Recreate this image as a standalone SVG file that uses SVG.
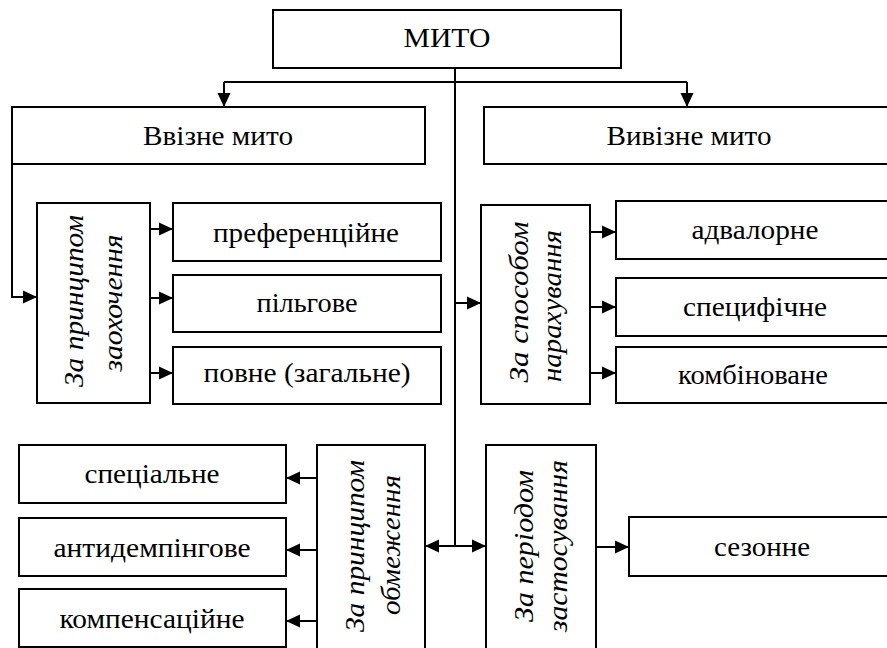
<svg xmlns="http://www.w3.org/2000/svg" width="887" height="648" viewBox="0 0 887 648">
<defs>
<style>
.box{fill:#fff;stroke:#000;stroke-width:2}
.t{font-family:'Liberation Serif','Times New Roman',serif;font-size:27px;fill:#000;text-anchor:middle}
.v{font-family:'Liberation Serif','Times New Roman',serif;font-size:27px;font-style:italic;fill:#000;text-anchor:middle}
.ln{fill:none;stroke:#000;stroke-width:2}
</style>
<marker id="ah" viewBox="0 0 14 14" refX="14" refY="7" markerWidth="14" markerHeight="14" markerUnits="userSpaceOnUse" orient="auto">
<path d="M0,0.5 L14,7 L0,13.5 Z" fill="#000"/>
</marker>
</defs>
<rect width="887" height="648" fill="#fff"/>
<g id="connectors">
<path class="ln" d="M455,68 V546"/>
<path class="ln" d="M224,82 H687"/>
<path class="ln" d="M224,82 V107" marker-end="url(#ah)"/>
<path class="ln" d="M687,82 V107" marker-end="url(#ah)"/>
<path class="ln" d="M12,144 V297 H37" marker-end="url(#ah)"/>
<path class="ln" d="M150,229 H173" marker-end="url(#ah)"/>
<path class="ln" d="M150,298 H173" marker-end="url(#ah)"/>
<path class="ln" d="M150,373 H173" marker-end="url(#ah)"/>
<path class="ln" d="M455,303 H481" marker-end="url(#ah)"/>
<path class="ln" d="M590,232 H616" marker-end="url(#ah)"/>
<path class="ln" d="M590,307 H616" marker-end="url(#ah)"/>
<path class="ln" d="M590,373 H616" marker-end="url(#ah)"/>
<path class="ln" d="M455,546 H425" marker-end="url(#ah)"/>
<path class="ln" d="M455,546 H486" marker-end="url(#ah)"/>
<path class="ln" d="M317,478 H286" marker-end="url(#ah)"/>
<path class="ln" d="M317,550 H286" marker-end="url(#ah)"/>
<path class="ln" d="M317,621 H286" marker-end="url(#ah)"/>
<path class="ln" d="M596,547 H629" marker-end="url(#ah)"/>
</g>
<g id="myto"><rect class="box" x="273" y="10" width="348" height="58"/><text class="t" x="447" y="47" textLength="87" lengthAdjust="spacingAndGlyphs">МИТО</text></g>
<g id="vvizne"><rect class="box" x="12" y="107" width="413" height="57"/><text class="t" x="218" y="145" textLength="150" lengthAdjust="spacingAndGlyphs">Ввізне мито</text></g>
<g id="vyvizne"><rect class="box" x="484" y="107" width="410" height="57"/><text class="t" x="689" y="145" textLength="165" lengthAdjust="spacingAndGlyphs">Вивізне мито</text></g>
<g id="zaokhochennia"><rect class="box" x="37" y="203" width="113" height="200"/>
<text class="v" transform="translate(83,301) rotate(-90)" textLength="172" lengthAdjust="spacingAndGlyphs">За принципом</text>
<text class="v" transform="translate(122,303) rotate(-90)" textLength="137" lengthAdjust="spacingAndGlyphs">заохочення</text></g>
<g id="preferentsiine"><rect class="box" x="173" y="203" width="268" height="58"/><text class="t" x="306" y="242" textLength="186" lengthAdjust="spacingAndGlyphs">преференційне</text></g>
<g id="pilhove"><rect class="box" x="173" y="275" width="268" height="57"/><text class="t" x="307" y="312" textLength="101" lengthAdjust="spacingAndGlyphs">пільгове</text></g>
<g id="povne"><rect class="box" x="173" y="347" width="268" height="57"/><text class="t" x="307" y="382" textLength="207" lengthAdjust="spacingAndGlyphs">повне (загальне)</text></g>
<g id="narakhuvannia"><rect class="box" x="481" y="205" width="109" height="199"/>
<text class="v" transform="translate(528,302) rotate(-90)" textLength="161" lengthAdjust="spacingAndGlyphs">За способом</text>
<text class="v" transform="translate(561,306) rotate(-90)" textLength="152" lengthAdjust="spacingAndGlyphs">нарахування</text></g>
<g id="advalorne"><rect class="box" x="616" y="201" width="280" height="58"/><text class="t" x="755" y="239" textLength="127" lengthAdjust="spacingAndGlyphs">адвалорне</text></g>
<g id="spetsyfichne"><rect class="box" x="616" y="278" width="280" height="58"/><text class="t" x="755" y="316" textLength="144" lengthAdjust="spacingAndGlyphs">специфічне</text></g>
<g id="kombinovane"><rect class="box" x="616" y="347" width="280" height="56"/><text class="t" x="753" y="384" textLength="150" lengthAdjust="spacingAndGlyphs">комбіноване</text></g>
<g id="obmezhennia"><rect class="box" x="317" y="445" width="108" height="220"/>
<text class="v" transform="translate(364,546) rotate(-90)" textLength="172" lengthAdjust="spacingAndGlyphs">За принципом</text>
<text class="v" transform="translate(400,545) rotate(-90)" textLength="140" lengthAdjust="spacingAndGlyphs">обмеження</text></g>
<g id="spetsialne"><rect class="box" x="19" y="445" width="267" height="58"/><text class="t" x="152" y="483" textLength="135" lengthAdjust="spacingAndGlyphs">спеціальне</text></g>
<g id="antydempinhove"><rect class="box" x="19" y="518" width="267" height="58"/><text class="t" x="152" y="557" textLength="197" lengthAdjust="spacingAndGlyphs">антидемпінгове</text></g>
<g id="kompensatsiine"><rect class="box" x="19" y="589" width="267" height="58"/><text class="t" x="152" y="628" textLength="185" lengthAdjust="spacingAndGlyphs">компенсаційне</text></g>
<g id="zastosuvannia"><rect class="box" x="486" y="445" width="110" height="220"/>
<text class="v" transform="translate(533,546) rotate(-90)" textLength="152" lengthAdjust="spacingAndGlyphs">За періодом</text>
<text class="v" transform="translate(567,546) rotate(-90)" textLength="172" lengthAdjust="spacingAndGlyphs">застосування</text></g>
<g id="sezonne"><rect class="box" x="629" y="517" width="267" height="59"/><text class="t" x="762" y="556" textLength="96" lengthAdjust="spacingAndGlyphs">сезонне</text></g>
</svg>
